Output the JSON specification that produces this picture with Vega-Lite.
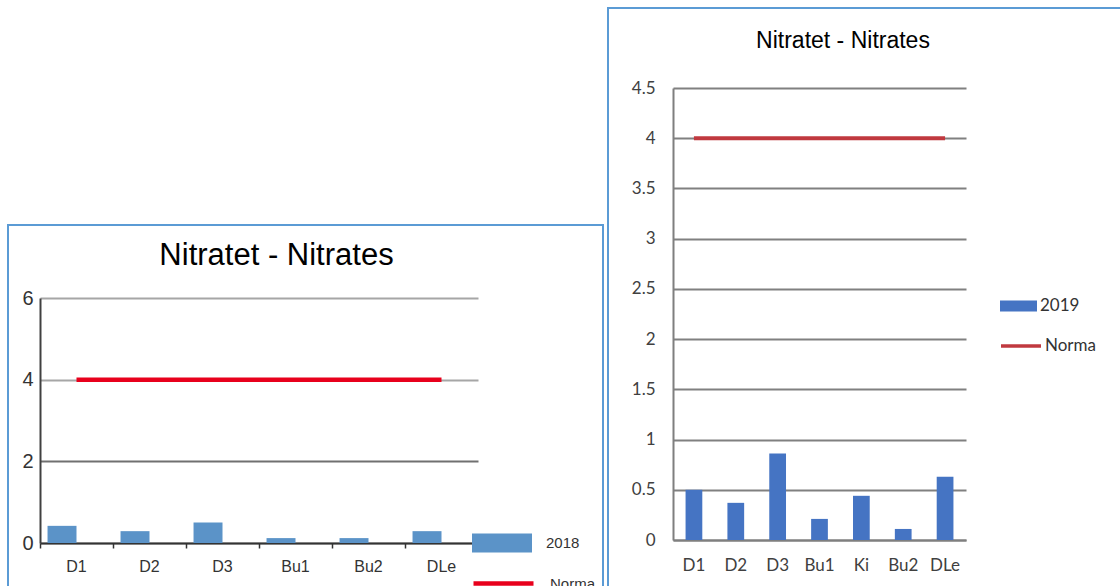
{
  "$schema": "https://vega.github.io/schema/vega-lite/v6.json",
  "background": "white",
  "padding": {"left": 7, "top": 7, "right": 0, "bottom": 0},
  "spacing": 3,
  "center": true,
  "datasets": {
    "d2018": [
      {"cat": "D1", "value": 0.42, "series": "2018", "norma": 4},
      {"cat": "D2", "value": 0.29, "series": "2018", "norma": 4},
      {"cat": "D3", "value": 0.5, "series": "2018", "norma": 4},
      {"cat": "Bu1", "value": 0.12, "series": "2018", "norma": 4},
      {"cat": "Bu2", "value": 0.12, "series": "2018", "norma": 4},
      {"cat": "DLe", "value": 0.29, "series": "2018", "norma": 4}
    ],
    "d2019": [
      {"cat": "D1", "value": 0.5, "series": "2019", "norma": 4},
      {"cat": "D2", "value": 0.37, "series": "2019", "norma": 4},
      {"cat": "D3", "value": 0.86, "series": "2019", "norma": 4},
      {"cat": "Bu1", "value": 0.21, "series": "2019", "norma": 4},
      {"cat": "Ki", "value": 0.44, "series": "2019", "norma": 4},
      {"cat": "Bu2", "value": 0.11, "series": "2019", "norma": 4},
      {"cat": "DLe", "value": 0.63, "series": "2019", "norma": 4}
    ]
  },
  "hconcat": [
    {
      "width": 595,
      "height": 400,
      "data": {"name": "d2018"},
      "title": {
        "text": "Nitratet - Nitrates",
        "font": "Liberation Sans",
        "fontSize": 31,
        "fontWeight": "normal",
        "color": "#000000",
        "anchor": "middle",
        "frame": "group",
        "baseline": "alphabetic",
        "offset": -71,
        "dx": -29
      },
      "layer": [
        {
          "mark": {"type": "bar"},
          "encoding": {
            "x": {
              "field": "cat", "type": "nominal", "sort": null,
              "scale": {"range": [32, 470], "paddingInner": 0, "paddingOuter": 0},
              "axis": {
                "orient": "bottom", "offset": -82, "ticks": false, "title": null, "labelAngle": 0,
                "labelFont": "Liberation Sans", "labelFontSize": 16, "labelColor": "#333333", "labelPadding": 15,
                "domainColor": "#333333", "domainWidth": 2
              }
            },
            "xOffset": {
              "field": "series", "type": "nominal",
              "scale": {"domain": ["2018", "Norma"], "paddingInner": 0, "paddingOuter": 0.26}
            },
            "y": {
              "field": "value", "type": "quantitative",
              "scale": {"domain": [0, 6], "range": [318, 73]},
              "axis": {
                "orient": "left", "offset": -32, "values": [0, 2, 4, 6], "format": "d", "title": null,
                "grid": true,
                "gridColor": {"condition": {"test": "datum.value === 2", "value": "#707070"}, "value": "#a6a6a6"},
                "gridWidth": 2,
                "domainColor": "#404040", "domainWidth": 2,
                "ticks": false, "labelPadding": 7, "labelFlush": false,
                "labelFont": "Liberation Sans", "labelFontSize": 20, "labelColor": "#333333"
              }
            },
            "fill": {
              "field": "series", "type": "nominal",
              "scale": {"range": ["#5b93c8"]},
              "legend": {
                "orient": "none", "legendX": 464, "legendY": 288, "title": null, "padding": 0,
                "symbolType": "M-1,-0.317H1V0.317H-1Z", "symbolSize": 3600, "symbolStrokeWidth": 0,
                "labelFont": "Liberation Sans", "labelFontSize": 15, "labelColor": "#333333", "labelOffset": 14
              }
            }
          }
        },
        {
          "mark": {"type": "line", "strokeWidth": 4.5},
          "encoding": {
            "x": {
              "field": "cat", "type": "nominal", "sort": null,
              "axis": {
                "orient": "bottom", "offset": -82, "labels": false, "domain": false, "title": null,
                "ticks": true, "tickSize": 5, "tickWidth": 1.5, "tickColor": "#333333", "bandPosition": 0, "grid": false
              }
            },
            "y": {"field": "norma", "type": "quantitative"},
            "stroke": {
              "datum": "Norma",
              "scale": {"range": ["#e8001c"]},
              "legend": {
                "orient": "none", "legendX": 463, "legendY": 326, "title": null, "padding": 0,
                "symbolType": "stroke", "symbolSize": 3600, "symbolStrokeWidth": 4.5,
                "labelFont": "Liberation Sans", "labelFontSize": 15, "labelColor": "#333333", "labelOffset": 14
              }
            }
          }
        }
      ],
      "resolve": {"axis": {"x": "independent"}}
    },
    {
      "width": 520,
      "height": 834,
      "data": {"name": "d2019"},
      "title": {
        "text": "Nitratet - Nitrates",
        "font": "Liberation Sans",
        "fontSize": 23,
        "fontWeight": "normal",
        "color": "#000000",
        "anchor": "middle",
        "frame": "group",
        "baseline": "alphabetic",
        "offset": -63,
        "dx": -25
      },
      "layer": [
        {
          "mark": {"type": "bar"},
          "encoding": {
            "x": {
              "field": "cat", "type": "nominal", "sort": null,
              "scale": {"range": [65, 358], "paddingInner": 0.6, "paddingOuter": 0.3},
              "axis": {
                "orient": "bottom", "offset": -302, "ticks": false, "title": null, "labelAngle": 0,
                "labelFont": "Lato", "labelFontSize": 17, "labelColor": "#404040", "labelPadding": 17,
                "domainColor": "#7f7f7f", "domainWidth": 2
              }
            },
            "y": {
              "field": "value", "type": "quantitative",
              "scale": {"domain": [0, 4.5], "range": [532, 80]},
              "axis": {
                "orient": "left", "offset": -65, "values": [0, 0.5, 1, 1.5, 2, 2.5, 3, 3.5, 4, 4.5],
                "format": ".1~f", "title": null,
                "grid": true, "gridColor": "#808080", "gridWidth": 2,
                "domainColor": "#7f7f7f", "domainWidth": 2,
                "ticks": false, "labelPadding": 18, "labelFlush": false,
                "labelFont": "Lato", "labelFontSize": 17, "labelColor": "#404040"
              }
            },
            "fill": {
              "field": "series", "type": "nominal",
              "scale": {"range": ["#4574c3"]},
              "legend": {
                "orient": "none", "legendX": 392, "legendY": 279.5, "title": null, "padding": 0,
                "symbolType": "M-1,-0.297H1V0.297H-1Z", "symbolSize": 1369, "symbolStrokeWidth": 0,
                "labelFont": "Lato", "labelFontSize": 17, "labelColor": "#333333", "labelOffset": 3
              }
            }
          }
        },
        {
          "mark": {"type": "line", "strokeWidth": 4},
          "encoding": {
            "x": {"field": "cat", "type": "nominal", "sort": null},
            "y": {"field": "norma", "type": "quantitative"},
            "stroke": {
              "datum": "Norma",
              "scale": {"range": ["#c0393f"]},
              "legend": {
                "orient": "none", "legendX": 391, "legendY": 316, "title": null, "padding": 0,
                "symbolType": "stroke", "symbolSize": 1600, "symbolStrokeWidth": 3.5,
                "labelFont": "Lato", "labelFontSize": 17, "labelColor": "#333333", "labelOffset": 2
              }
            }
          }
        }
      ]
    }
  ],
  "resolve": {
    "scale": {"fill": "independent", "stroke": "independent"},
    "legend": {"fill": "independent", "stroke": "independent"}
  },
  "config": {
    "view": {"stroke": "#5b9bd5", "strokeWidth": 2},
    "legend": {"labelLimit": 0},
    "axis": {"labelOverlap": false}
  }
}
